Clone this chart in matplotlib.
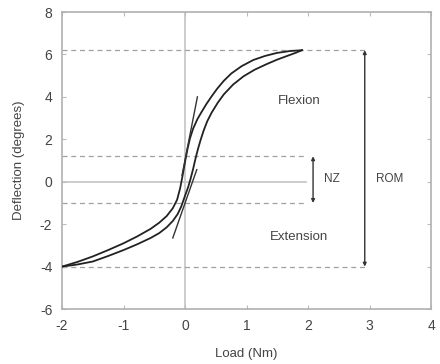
import matplotlib
matplotlib.use("Agg")
import matplotlib.pyplot as plt

plt.rcParams['font.family'] = ['Liberation Sans', 'DejaVu Sans']
plt.rcParams['axes.unicode_minus'] = False

# loop branch on the left/upper side
load_a = [-2.0, -1.75, -1.5, -1.25, -1.0, -0.78, -0.56, -0.42, -0.3, -0.2, -0.13,
          -0.08, -0.04, 0.0, 0.04, 0.08, 0.13, 0.2, 0.27, 0.35, 0.43, 0.52, 0.63,
          0.75, 0.92, 1.11, 1.3, 1.49, 1.7, 1.9]
defl_a = [-4.0, -3.78, -3.52, -3.22, -2.9, -2.58, -2.22, -1.93, -1.62, -1.25, -0.85,
          -0.3, 0.3, 0.95, 1.55, 2.05, 2.5, 2.95, 3.3, 3.68, 4.02, 4.38, 4.76,
          5.1, 5.45, 5.74, 5.93, 6.07, 6.16, 6.2]

# loop branch on the right/lower side
load_b = [-2.0, -1.75, -1.5, -1.25, -1.0, -0.78, -0.56, -0.42, -0.3, -0.2, -0.12,
          -0.06, 0.0, 0.05, 0.09, 0.13, 0.17, 0.21, 0.25, 0.3, 0.36, 0.43, 0.53,
          0.63, 0.78, 0.95, 1.13, 1.33, 1.5, 1.65, 1.8, 1.9]
defl_b = [-4.0, -3.9, -3.76, -3.5, -3.22, -2.95, -2.65, -2.42, -2.15, -1.85, -1.52,
          -1.15, -0.65, -0.25, 0.15, 0.6, 1.1, 1.55, 1.95, 2.4, 2.85, 3.25, 3.72,
          4.12, 4.58, 4.97, 5.28, 5.55, 5.76, 5.92, 6.08, 6.2]

# stiffness tangents
tan1_x = [-0.05, 0.2]
tan1_y = [0.3, 4.0]
tan2_x = [-0.2, 0.19]
tan2_y = [-2.65, 0.57]

rom_top, rom_bot = 6.2, -4.0
nz_top, nz_bot = 1.2, -1.0
nz_x, rom_x = 2.08, 2.92

fig = plt.figure(figsize=(4.4, 3.64), dpi=100)
ax = fig.add_axes([0.141, 0.151, 0.839, 0.816])

ax.axvline(0, color='#c4c4c4', lw=1.2, zorder=1)
ax.plot([-2, 1.97], [0, 0], color='#c4c4c4', lw=1.2, zorder=1)

dash = dict(color='#a0a0a0', lw=0.9, ls=(0, (4, 3)), zorder=1)
ax.plot([-2, rom_x], [rom_top, rom_top], **dash)
ax.plot([-2, rom_x], [rom_bot, rom_bot], **dash)
ax.plot([-2, 1.98], [nz_top, nz_top], **dash)
ax.plot([-2, 1.98], [nz_bot, nz_bot], **dash)

ax.plot(load_a, defl_a, color='#222222', lw=1.3, zorder=3)
ax.plot(load_b, defl_b, color='#222222', lw=1.3, zorder=3)
ax.plot(tan1_x, tan1_y, color='#333333', lw=1.0, zorder=3)
ax.plot(tan2_x, tan2_y, color='#333333', lw=1.0, zorder=3)

arr = dict(arrowstyle='<|-|>', color='#333333', lw=1.0, mutation_scale=5,
           shrinkA=0, shrinkB=0)
ax.annotate('', xy=(nz_x, nz_top), xytext=(nz_x, nz_bot), arrowprops=arr)
ax.annotate('', xy=(rom_x, rom_top), xytext=(rom_x, rom_bot), arrowprops=arr)

txt = dict(color='#444444', fontsize=9.5, ha='center', va='center')
ax.text(2.38, 0.15, 'NZ', fontsize=8.5, color='#444444', ha='center', va='center')
ax.text(3.32, 0.15, 'ROM', fontsize=8.5, color='#444444', ha='center', va='center')
ax.text(1.85, 3.8, 'Flexion', **txt)
ax.text(1.85, -2.6, 'Extension', **txt)

ax.set_xlim(-2, 4)
ax.set_ylim(-6, 8)
ax.set_xticks([-2, -1, 0, 1, 2, 3, 4])
ax.set_yticks([-6, -4, -2, 0, 2, 4, 6, 8])
ax.tick_params(direction='in', length=3, color='#bbbbbb', labelcolor='#444444',
               labelsize=10, pad=7, top=True, right=True)
for s in ax.spines.values():
    s.set_color('#b0b0b0')
    s.set_linewidth(1.2)

ax.set_xlabel('Load (Nm)', color='#444444', fontsize=9.5, labelpad=11)
ax.set_ylabel('Deflection (degrees)', color='#444444', fontsize=9.5, labelpad=11)

fig.savefig('out.png', dpi=100)
